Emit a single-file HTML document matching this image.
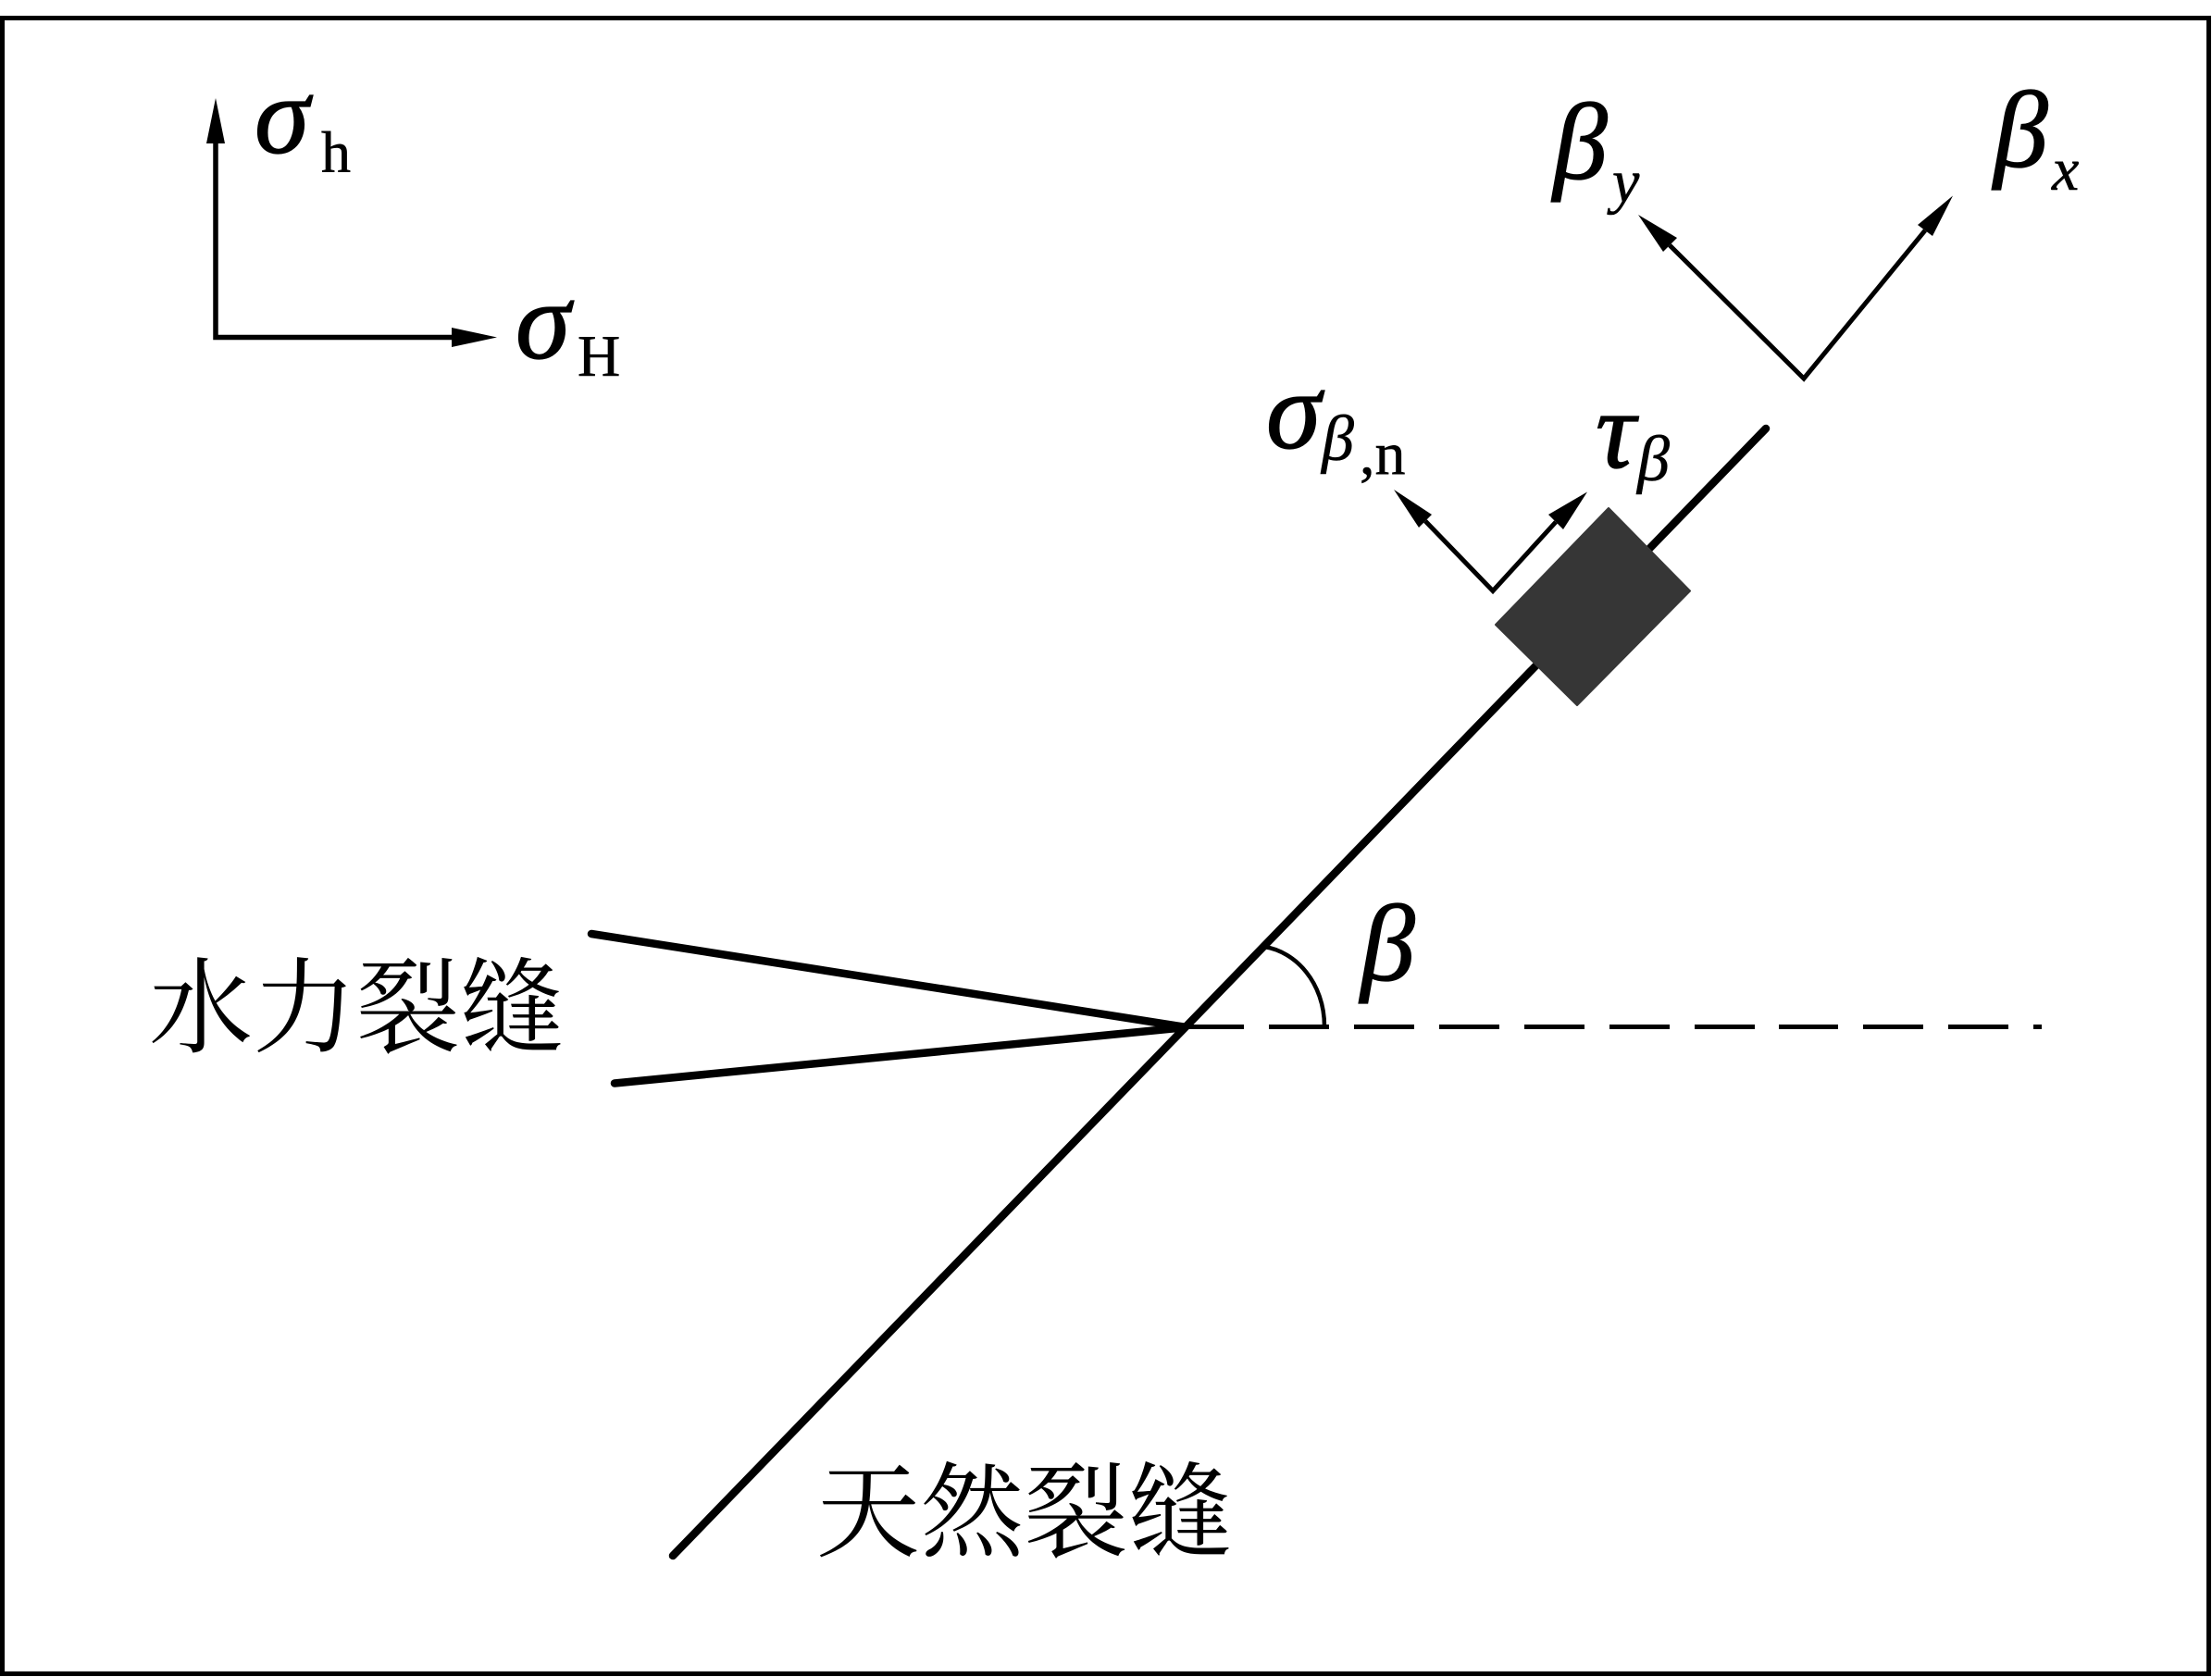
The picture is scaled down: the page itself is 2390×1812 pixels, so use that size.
<!DOCTYPE html>
<html><head><meta charset="utf-8"><style>
html,body{margin:0;padding:0;background:#fff}
svg{display:block}
text{fill:#000}
.g{font-family:"Liberation Serif",serif;font-style:italic}
.b{stroke:#000;stroke-width:1.300px}
.s{stroke:#000;stroke-width:.6px}
.r{font-family:"Liberation Serif",serif}
.c{font-family:"Liberation Serif","Noto Serif CJK SC",serif;font-size:112px}
</style></head><body>
<svg width="2390" height="1812" viewBox="0 0 2390 1812" xmlns="http://www.w3.org/2000/svg">
<rect width="2390" height="1812" fill="#fff"/>
<rect x="2.5" y="19.500" width="2384" height="1789" fill="none" stroke="#000" stroke-width="5"/>
<!-- axes -->
<path d="M233 150V364.500H495" fill="none" stroke="#000" stroke-width="5.500"/>
<path d="M233 106L243 155H223Z"/><path d="M537 364.500L488 354V375Z"/>
<!-- main crack -->
<path d="M727 1681L1908 463" stroke="#000" stroke-width="8.500" stroke-linecap="round" fill="none"/>
<path d="M639 1009L1282 1110L664 1170.500" stroke="#000" stroke-width="8.500" stroke-linecap="round" fill="none"/>
<path d="M1738 549L1826 638.500L1704 762L1616 675Z" fill="#363636" stroke="#363636" stroke-width="2" stroke-linejoin="round"/>
<!-- dashed -->
<path d="M1282 1109.500H1344M1371 1109.500H1436M1463 1109.500H1528M1555 1109.500H1620M1647 1109.500H1712M1739 1109.500H1804M1831 1109.500H1896M1922 1109.500H1986M2013 1109.500H2078M2105 1109.500H2170M2197 1109.500H2206" stroke="#000" stroke-width="5" fill="none"/>
<path d="M1366 1023C1400 1028 1431 1062 1431 1109" stroke="#000" stroke-width="4.500" fill="none"/>
<!-- beta axes -->
<path d="M1804 265L1949 409L2080 249" stroke="#000" stroke-width="5" fill="none"/>
<path d="M1770 232L1812 257L1797 272Z"/><path d="M2110 211.500L2072 243L2088 255Z"/>
<!-- stress axes -->
<path d="M1540 563L1613 638.500L1681 564" stroke="#000" stroke-width="5" fill="none"/>
<path d="M1506 529L1547 556L1533 570Z"/><path d="M1715 531.500L1673 556L1689 572Z"/>
<!-- labels -->
<text class="g b" x="275" y="165" font-size="120">σ</text>
<text class="r s" x="347" y="186" font-size="64">h</text>
<text class="g b" x="557" y="387" font-size="120">σ</text>
<text class="r s" x="624" y="406" font-size="64">H</text>
<text class="g b" x="1678" y="193" font-size="118">β</text>
<text class="g s" x="1742" y="218" font-size="66">y</text>
<text class="g b" x="2154" y="180" font-size="118">β</text>
<text class="g s" x="2217" y="205" font-size="66">x</text>
<text class="g b" x="1368" y="484" font-size="120">σ</text>
<text class="g s" x="1428" y="497" font-size="70">β</text>
<text class="r s" x="1469" y="512" font-size="66">,n</text>
<text class="g b" x="1724" y="505" font-size="120">τ</text>
<text class="g s" x="1769" y="519" font-size="70">β</text>
<text class="g b" x="1470" y="1059" font-size="118">β</text>
<text class="c" x="161" y="1128" textLength="448" lengthAdjust="spacing">水力裂缝</text>
<text class="c" x="882" y="1673" textLength="449" lengthAdjust="spacing">天然裂缝</text>
</svg>
</body></html>
